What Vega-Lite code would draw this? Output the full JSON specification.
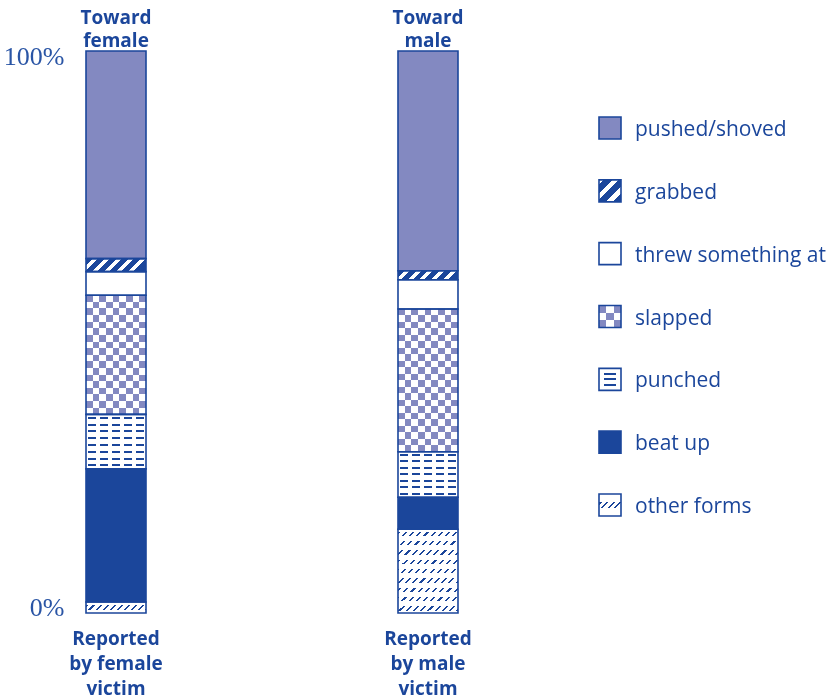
{
  "$schema": "https://vega.github.io/schema/vega-lite/v6.json",
  "background": "white",
  "padding": {"left": 3, "top": 8, "right": 0, "bottom": 0},
  "config": {"view": {"stroke": null}, "axis": {"grid": false, "domain": false, "ticks": false}},
  "spacing": 121,
  "datasets": {
    "bars": [
      {"victim": "female", "cat": "pushed/shoved", "value": 36.95, "order": 7},
      {"victim": "female", "cat": "grabbed", "value": 2.3, "order": 6},
      {"victim": "female", "cat": "threw something at", "value": 4.2, "order": 5},
      {"victim": "female", "cat": "slapped", "value": 21.2, "order": 4},
      {"victim": "female", "cat": "punched", "value": 9.7, "order": 3},
      {"victim": "female", "cat": "beat up", "value": 23.7, "order": 2},
      {"victim": "female", "cat": "other forms", "value": 1.95, "order": 1},
      {"victim": "male", "cat": "pushed/shoved", "value": 39.1, "order": 7},
      {"victim": "male", "cat": "grabbed", "value": 1.6, "order": 6},
      {"victim": "male", "cat": "threw something at", "value": 5.2, "order": 5},
      {"victim": "male", "cat": "slapped", "value": 25.4, "order": 4},
      {"victim": "male", "cat": "punched", "value": 8.1, "order": 3},
      {"victim": "male", "cat": "beat up", "value": 5.7, "order": 2},
      {"victim": "male", "cat": "other forms", "value": 14.9, "order": 1}
    ],
    "legend": [
      {"cat": "pushed/shoved"},
      {"cat": "grabbed"},
      {"cat": "threw something at"},
      {"cat": "slapped"},
      {"cat": "punched"},
      {"cat": "beat up"},
      {"cat": "other forms"}
    ]
  },
  "hconcat": [
    {
      "width": 404,
      "height": 562,
      "data": {"name": "bars"},
      "transform": [
        {"stack": "value", "groupby": ["victim"], "sort": [{"field": "order", "order": "ascending"}], "as": ["y0", "y1"], "offset": "normalize"}
      ],
      "encoding": {
        "x": {"field": "victim", "type": "nominal", "scale": {"domain": ["female", "male"], "paddingInner": 0.8077, "paddingOuter": 0.0513}, "axis": null},
        "y": {"field": "y0", "type": "quantitative", "scale": {"domain": [0, 1], "nice": false},
          "axis": {"values": [0, 1], "format": ".0%", "title": null, "labelFont": "Liberation Serif", "labelFontSize": 26, "labelColor": "#2a55a5", "labelPadding": 6, "labelBaseline": "middle",
            "labelOffset": {"condition": {"test": "datum.value == 1", "value": 5}, "value": -6}}},
        "y2": {"field": "y1"}
      },
      "resolve": {"axis": {"x": "independent"}},
      "layer": [
        {
          "transform": [{"filter": "datum.cat == 'pushed/shoved'"}],
          "mark": {"type": "bar", "fill": "#8389c1", "strokeWidth": 0},
          "encoding": {
            "x": {"field": "victim", "type": "nominal", "scale": {"domain": ["female", "male"], "paddingInner": 0.8077, "paddingOuter": 0.0513},
              "axis": {"orient": "bottom", "title": null, "labelAngle": 0, "labelExpr": "datum.value == 'female' ? ['Reported', 'by female', 'victim'] : ['Reported', 'by male', 'victim']",
                "labelFont": "Open Sans", "labelFontWeight": "bold", "labelFontSize": 19, "labelColor": "#1b469b", "labelLineHeight": 25, "labelPadding": 16, "labelBaseline": "top"}}
          }
        },
        {
          "transform": [{"filter": "datum.cat == 'grabbed' && datum.victim == 'female'"}],
          "mark": {"type": "bar", "strokeWidth": 0, "fill": {"gradient": "linear", "x1": 0, "y1": 0, "x2": 1, "y2": 0.217, "stops": [
            {"offset": 0, "color": "#1b469b"}, {"offset": 0.11, "color": "#1b469b"}, {"offset": 0.11, "color": "#ffffff"}, {"offset": 0.19, "color": "#ffffff"},
            {"offset": 0.19, "color": "#1b469b"}, {"offset": 0.3, "color": "#1b469b"}, {"offset": 0.3, "color": "#ffffff"}, {"offset": 0.38, "color": "#ffffff"},
            {"offset": 0.38, "color": "#1b469b"}, {"offset": 0.49, "color": "#1b469b"}, {"offset": 0.49, "color": "#ffffff"}, {"offset": 0.57, "color": "#ffffff"},
            {"offset": 0.57, "color": "#1b469b"}, {"offset": 0.68, "color": "#1b469b"}, {"offset": 0.68, "color": "#ffffff"}, {"offset": 0.76, "color": "#ffffff"},
            {"offset": 0.76, "color": "#1b469b"}, {"offset": 0.87, "color": "#1b469b"}, {"offset": 0.87, "color": "#ffffff"}, {"offset": 0.95, "color": "#ffffff"},
            {"offset": 0.95, "color": "#1b469b"}, {"offset": 1, "color": "#1b469b"}]}}
        },
        {
          "transform": [{"filter": "datum.cat == 'grabbed' && datum.victim == 'male'"}],
          "mark": {"type": "bar", "strokeWidth": 0, "fill": {"gradient": "linear", "x1": 0, "y1": 0, "x2": 1, "y2": 0.15, "stops": [
            {"offset": 0, "color": "#1b469b"}, {"offset": 0.11, "color": "#1b469b"}, {"offset": 0.11, "color": "#ffffff"}, {"offset": 0.19, "color": "#ffffff"},
            {"offset": 0.19, "color": "#1b469b"}, {"offset": 0.3, "color": "#1b469b"}, {"offset": 0.3, "color": "#ffffff"}, {"offset": 0.38, "color": "#ffffff"},
            {"offset": 0.38, "color": "#1b469b"}, {"offset": 0.49, "color": "#1b469b"}, {"offset": 0.49, "color": "#ffffff"}, {"offset": 0.57, "color": "#ffffff"},
            {"offset": 0.57, "color": "#1b469b"}, {"offset": 0.68, "color": "#1b469b"}, {"offset": 0.68, "color": "#ffffff"}, {"offset": 0.76, "color": "#ffffff"},
            {"offset": 0.76, "color": "#1b469b"}, {"offset": 0.87, "color": "#1b469b"}, {"offset": 0.87, "color": "#ffffff"}, {"offset": 0.95, "color": "#ffffff"},
            {"offset": 0.95, "color": "#1b469b"}, {"offset": 1, "color": "#1b469b"}]}}
        },
        {
          "transform": [{"filter": "datum.cat == 'threw something at'"}],
          "mark": {"type": "bar", "fill": "#ffffff", "strokeWidth": 0}
        },
        {
          "transform": [{"filter": "datum.cat == 'slapped' && datum.victim == 'female'"}],
          "mark": {"type": "bar", "strokeWidth": 0, "fill": {"gradient": "linear", "x1": 0, "y1": 0, "x2": 0, "y2": 1, "stops": [
            {"offset": 0, "color": "#000000"}, {"offset": 0.0556, "color": "#000000"}, {"offset": 0.0556, "color": "#ffffff"}, {"offset": 0.1111, "color": "#ffffff"},
            {"offset": 0.1111, "color": "#000000"}, {"offset": 0.1667, "color": "#000000"}, {"offset": 0.1667, "color": "#ffffff"}, {"offset": 0.2222, "color": "#ffffff"},
            {"offset": 0.2222, "color": "#000000"}, {"offset": 0.2778, "color": "#000000"}, {"offset": 0.2778, "color": "#ffffff"}, {"offset": 0.3333, "color": "#ffffff"},
            {"offset": 0.3333, "color": "#000000"}, {"offset": 0.3889, "color": "#000000"}, {"offset": 0.3889, "color": "#ffffff"}, {"offset": 0.4444, "color": "#ffffff"},
            {"offset": 0.4444, "color": "#000000"}, {"offset": 0.5, "color": "#000000"}, {"offset": 0.5, "color": "#ffffff"}, {"offset": 0.5556, "color": "#ffffff"},
            {"offset": 0.5556, "color": "#000000"}, {"offset": 0.6111, "color": "#000000"}, {"offset": 0.6111, "color": "#ffffff"}, {"offset": 0.6667, "color": "#ffffff"},
            {"offset": 0.6667, "color": "#000000"}, {"offset": 0.7222, "color": "#000000"}, {"offset": 0.7222, "color": "#ffffff"}, {"offset": 0.7778, "color": "#ffffff"},
            {"offset": 0.7778, "color": "#000000"}, {"offset": 0.8333, "color": "#000000"}, {"offset": 0.8333, "color": "#ffffff"}, {"offset": 0.8889, "color": "#ffffff"},
            {"offset": 0.8889, "color": "#000000"}, {"offset": 0.9444, "color": "#000000"}, {"offset": 0.9444, "color": "#ffffff"}, {"offset": 1, "color": "#ffffff"}]}}
        },
        {
          "transform": [{"filter": "datum.cat == 'slapped' && datum.victim == 'male'"}],
          "mark": {"type": "bar", "strokeWidth": 0, "fill": {"gradient": "linear", "x1": 0, "y1": 0, "x2": 0, "y2": 1, "stops": [
            {"offset": 0, "color": "#000000"}, {"offset": 0.0455, "color": "#000000"}, {"offset": 0.0455, "color": "#ffffff"}, {"offset": 0.0909, "color": "#ffffff"},
            {"offset": 0.0909, "color": "#000000"}, {"offset": 0.1364, "color": "#000000"}, {"offset": 0.1364, "color": "#ffffff"}, {"offset": 0.1818, "color": "#ffffff"},
            {"offset": 0.1818, "color": "#000000"}, {"offset": 0.2273, "color": "#000000"}, {"offset": 0.2273, "color": "#ffffff"}, {"offset": 0.2727, "color": "#ffffff"},
            {"offset": 0.2727, "color": "#000000"}, {"offset": 0.3182, "color": "#000000"}, {"offset": 0.3182, "color": "#ffffff"}, {"offset": 0.3636, "color": "#ffffff"},
            {"offset": 0.3636, "color": "#000000"}, {"offset": 0.4091, "color": "#000000"}, {"offset": 0.4091, "color": "#ffffff"}, {"offset": 0.4545, "color": "#ffffff"},
            {"offset": 0.4545, "color": "#000000"}, {"offset": 0.5, "color": "#000000"}, {"offset": 0.5, "color": "#ffffff"}, {"offset": 0.5455, "color": "#ffffff"},
            {"offset": 0.5455, "color": "#000000"}, {"offset": 0.5909, "color": "#000000"}, {"offset": 0.5909, "color": "#ffffff"}, {"offset": 0.6364, "color": "#ffffff"},
            {"offset": 0.6364, "color": "#000000"}, {"offset": 0.6818, "color": "#000000"}, {"offset": 0.6818, "color": "#ffffff"}, {"offset": 0.7273, "color": "#ffffff"},
            {"offset": 0.7273, "color": "#000000"}, {"offset": 0.7727, "color": "#000000"}, {"offset": 0.7727, "color": "#ffffff"}, {"offset": 0.8182, "color": "#ffffff"},
            {"offset": 0.8182, "color": "#000000"}, {"offset": 0.8636, "color": "#000000"}, {"offset": 0.8636, "color": "#ffffff"}, {"offset": 0.9091, "color": "#ffffff"},
            {"offset": 0.9091, "color": "#000000"}, {"offset": 0.9545, "color": "#000000"}, {"offset": 0.9545, "color": "#ffffff"}, {"offset": 1, "color": "#ffffff"}]}}
        },
        {
          "transform": [{"filter": "datum.cat == 'slapped'"}],
          "mark": {"type": "bar", "strokeWidth": 0, "blend": "difference", "fill": {"gradient": "linear", "x1": 0, "y1": 0, "x2": 1, "y2": 0, "stops": [
            {"offset": 0, "color": "rgba(255,255,255,0)"}, {"offset": 0.1111, "color": "rgba(255,255,255,0)"}, {"offset": 0.1111, "color": "#ffffff"}, {"offset": 0.2222, "color": "#ffffff"},
            {"offset": 0.2222, "color": "rgba(255,255,255,0)"}, {"offset": 0.3333, "color": "rgba(255,255,255,0)"}, {"offset": 0.3333, "color": "#ffffff"}, {"offset": 0.4444, "color": "#ffffff"},
            {"offset": 0.4444, "color": "rgba(255,255,255,0)"}, {"offset": 0.5556, "color": "rgba(255,255,255,0)"}, {"offset": 0.5556, "color": "#ffffff"}, {"offset": 0.6667, "color": "#ffffff"},
            {"offset": 0.6667, "color": "rgba(255,255,255,0)"}, {"offset": 0.7778, "color": "rgba(255,255,255,0)"}, {"offset": 0.7778, "color": "#ffffff"}, {"offset": 0.8889, "color": "#ffffff"},
            {"offset": 0.8889, "color": "rgba(255,255,255,0)"}, {"offset": 1, "color": "rgba(255,255,255,0)"}]}}
        },
        {
          "transform": [{"filter": "datum.cat == 'slapped'"}],
          "mark": {"type": "bar", "strokeWidth": 0, "blend": "screen", "fill": "#8389c1"}
        },
        {
          "transform": [{"filter": "datum.cat == 'punched' && datum.victim == 'female'"}],
          "mark": {"type": "bar", "strokeWidth": 0, "fill": {"gradient": "linear", "x1": 0, "y1": 0, "x2": 0, "y2": 1, "stops": [
            {"offset": 0, "color": "#ffffff"}, {"offset": 0.0443, "color": "#ffffff"}, {"offset": 0.0443, "color": "#1b469b"}, {"offset": 0.0807, "color": "#1b469b"}, {"offset": 0.0807, "color": "#ffffff"},
            {"offset": 0.1693, "color": "#ffffff"}, {"offset": 0.1693, "color": "#1b469b"}, {"offset": 0.2057, "color": "#1b469b"}, {"offset": 0.2057, "color": "#ffffff"},
            {"offset": 0.2943, "color": "#ffffff"}, {"offset": 0.2943, "color": "#1b469b"}, {"offset": 0.3307, "color": "#1b469b"}, {"offset": 0.3307, "color": "#ffffff"},
            {"offset": 0.4193, "color": "#ffffff"}, {"offset": 0.4193, "color": "#1b469b"}, {"offset": 0.4557, "color": "#1b469b"}, {"offset": 0.4557, "color": "#ffffff"},
            {"offset": 0.5443, "color": "#ffffff"}, {"offset": 0.5443, "color": "#1b469b"}, {"offset": 0.5807, "color": "#1b469b"}, {"offset": 0.5807, "color": "#ffffff"},
            {"offset": 0.6693, "color": "#ffffff"}, {"offset": 0.6693, "color": "#1b469b"}, {"offset": 0.7057, "color": "#1b469b"}, {"offset": 0.7057, "color": "#ffffff"},
            {"offset": 0.7943, "color": "#ffffff"}, {"offset": 0.7943, "color": "#1b469b"}, {"offset": 0.8307, "color": "#1b469b"}, {"offset": 0.8307, "color": "#ffffff"},
            {"offset": 0.9193, "color": "#ffffff"}, {"offset": 0.9193, "color": "#1b469b"}, {"offset": 0.9557, "color": "#1b469b"}, {"offset": 0.9557, "color": "#ffffff"},
            {"offset": 1, "color": "#ffffff"}]}}
        },
        {
          "transform": [{"filter": "datum.cat == 'punched' && datum.victim == 'male'"}],
          "mark": {"type": "bar", "strokeWidth": 0, "fill": {"gradient": "linear", "x1": 0, "y1": 0, "x2": 0, "y2": 1, "stops": [
            {"offset": 0, "color": "#ffffff"}, {"offset": 0.0494, "color": "#ffffff"}, {"offset": 0.0494, "color": "#1b469b"}, {"offset": 0.0934, "color": "#1b469b"}, {"offset": 0.0934, "color": "#ffffff"},
            {"offset": 0.1923, "color": "#ffffff"}, {"offset": 0.1923, "color": "#1b469b"}, {"offset": 0.2363, "color": "#1b469b"}, {"offset": 0.2363, "color": "#ffffff"},
            {"offset": 0.3351, "color": "#ffffff"}, {"offset": 0.3351, "color": "#1b469b"}, {"offset": 0.3791, "color": "#1b469b"}, {"offset": 0.3791, "color": "#ffffff"},
            {"offset": 0.478, "color": "#ffffff"}, {"offset": 0.478, "color": "#1b469b"}, {"offset": 0.522, "color": "#1b469b"}, {"offset": 0.522, "color": "#ffffff"},
            {"offset": 0.6209, "color": "#ffffff"}, {"offset": 0.6209, "color": "#1b469b"}, {"offset": 0.6649, "color": "#1b469b"}, {"offset": 0.6649, "color": "#ffffff"},
            {"offset": 0.7637, "color": "#ffffff"}, {"offset": 0.7637, "color": "#1b469b"}, {"offset": 0.8077, "color": "#1b469b"}, {"offset": 0.8077, "color": "#ffffff"},
            {"offset": 0.9066, "color": "#ffffff"}, {"offset": 0.9066, "color": "#1b469b"}, {"offset": 0.9506, "color": "#1b469b"}, {"offset": 0.9506, "color": "#ffffff"},
            {"offset": 1, "color": "#ffffff"}]}}
        },
        {
          "transform": [{"filter": "datum.cat == 'punched'"}],
          "mark": {"type": "bar", "strokeWidth": 0, "fill": {"gradient": "linear", "x1": 0, "y1": 0, "x2": 1, "y2": 0, "stops": [
            {"offset": 0, "color": "#ffffff"}, {"offset": 0.04, "color": "#ffffff"}, {"offset": 0.04, "color": "rgba(255,255,255,0)"}, {"offset": 0.16, "color": "rgba(255,255,255,0)"},
            {"offset": 0.16, "color": "#ffffff"}, {"offset": 0.24, "color": "#ffffff"}, {"offset": 0.24, "color": "rgba(255,255,255,0)"}, {"offset": 0.36, "color": "rgba(255,255,255,0)"},
            {"offset": 0.36, "color": "#ffffff"}, {"offset": 0.44, "color": "#ffffff"}, {"offset": 0.44, "color": "rgba(255,255,255,0)"}, {"offset": 0.56, "color": "rgba(255,255,255,0)"},
            {"offset": 0.56, "color": "#ffffff"}, {"offset": 0.64, "color": "#ffffff"}, {"offset": 0.64, "color": "rgba(255,255,255,0)"}, {"offset": 0.76, "color": "rgba(255,255,255,0)"},
            {"offset": 0.76, "color": "#ffffff"}, {"offset": 0.84, "color": "#ffffff"}, {"offset": 0.84, "color": "rgba(255,255,255,0)"}, {"offset": 0.96, "color": "rgba(255,255,255,0)"},
            {"offset": 0.96, "color": "#ffffff"}, {"offset": 1, "color": "#ffffff"}]}}
        },
        {
          "transform": [{"filter": "datum.cat == 'beat up'"}],
          "mark": {"type": "bar", "fill": "#1b469b", "strokeWidth": 0}
        },
        {
          "transform": [{"filter": "datum.cat == 'other forms' && datum.victim == 'female'"}],
          "mark": {"type": "bar", "strokeWidth": 0, "fill": {"gradient": "linear", "x1": 0, "y1": 0, "x2": 1.1446, "y2": 0.2095, "stops": [
            {"offset": 0, "color": "#ffffff"}, {"offset": 0.04, "color": "#ffffff"}, {"offset": 0.04, "color": "#1b469b"}, {"offset": 0.07, "color": "#1b469b"}, {"offset": 0.07, "color": "#ffffff"},
            {"offset": 0.14, "color": "#ffffff"}, {"offset": 0.14, "color": "#1b469b"}, {"offset": 0.17, "color": "#1b469b"}, {"offset": 0.17, "color": "#ffffff"},
            {"offset": 0.24, "color": "#ffffff"}, {"offset": 0.24, "color": "#1b469b"}, {"offset": 0.27, "color": "#1b469b"}, {"offset": 0.27, "color": "#ffffff"},
            {"offset": 0.34, "color": "#ffffff"}, {"offset": 0.34, "color": "#1b469b"}, {"offset": 0.37, "color": "#1b469b"}, {"offset": 0.37, "color": "#ffffff"},
            {"offset": 0.44, "color": "#ffffff"}, {"offset": 0.44, "color": "#1b469b"}, {"offset": 0.47, "color": "#1b469b"}, {"offset": 0.47, "color": "#ffffff"},
            {"offset": 0.54, "color": "#ffffff"}, {"offset": 0.54, "color": "#1b469b"}, {"offset": 0.57, "color": "#1b469b"}, {"offset": 0.57, "color": "#ffffff"},
            {"offset": 0.64, "color": "#ffffff"}, {"offset": 0.64, "color": "#1b469b"}, {"offset": 0.67, "color": "#1b469b"}, {"offset": 0.67, "color": "#ffffff"},
            {"offset": 0.74, "color": "#ffffff"}, {"offset": 0.74, "color": "#1b469b"}, {"offset": 0.77, "color": "#1b469b"}, {"offset": 0.77, "color": "#ffffff"},
            {"offset": 0.84, "color": "#ffffff"}, {"offset": 0.84, "color": "#1b469b"}, {"offset": 0.87, "color": "#1b469b"}, {"offset": 0.87, "color": "#ffffff"},
            {"offset": 0.94, "color": "#ffffff"}, {"offset": 0.94, "color": "#1b469b"}, {"offset": 0.97, "color": "#1b469b"}, {"offset": 0.97, "color": "#ffffff"},
            {"offset": 1, "color": "#ffffff"}]}}
        },
        {
          "transform": [{"filter": "datum.cat == 'other forms' && datum.victim == 'female'"}],
          "mark": {"type": "bar", "strokeWidth": 0, "fill": {"gradient": "linear", "x1": 0, "y1": 0, "x2": 0, "y2": 1, "stops": [
            {"offset": 0, "color": "#ffffff"}, {"offset": 0.3, "color": "#ffffff"}, {"offset": 0.3, "color": "rgba(255,255,255,0)"}, {"offset": 0.7, "color": "rgba(255,255,255,0)"},
            {"offset": 0.7, "color": "#ffffff"}, {"offset": 1, "color": "#ffffff"}]}}
        },
        {
          "transform": [{"filter": "datum.cat == 'other forms' && datum.victim == 'male'"}],
          "mark": {"type": "bar", "strokeWidth": 0, "fill": {"gradient": "linear", "x1": 0, "y1": 0, "x2": 0.809, "y2": 1.136, "stops": [
            {"offset": 0, "color": "#ffffff"}, {"offset": 0.02, "color": "#ffffff"}, {"offset": 0.02, "color": "#1b469b"}, {"offset": 0.035, "color": "#1b469b"}, {"offset": 0.035, "color": "#ffffff"},
            {"offset": 0.07, "color": "#ffffff"}, {"offset": 0.07, "color": "#1b469b"}, {"offset": 0.085, "color": "#1b469b"}, {"offset": 0.085, "color": "#ffffff"},
            {"offset": 0.12, "color": "#ffffff"}, {"offset": 0.12, "color": "#1b469b"}, {"offset": 0.135, "color": "#1b469b"}, {"offset": 0.135, "color": "#ffffff"},
            {"offset": 0.17, "color": "#ffffff"}, {"offset": 0.17, "color": "#1b469b"}, {"offset": 0.185, "color": "#1b469b"}, {"offset": 0.185, "color": "#ffffff"},
            {"offset": 0.22, "color": "#ffffff"}, {"offset": 0.22, "color": "#1b469b"}, {"offset": 0.235, "color": "#1b469b"}, {"offset": 0.235, "color": "#ffffff"},
            {"offset": 0.27, "color": "#ffffff"}, {"offset": 0.27, "color": "#1b469b"}, {"offset": 0.285, "color": "#1b469b"}, {"offset": 0.285, "color": "#ffffff"},
            {"offset": 0.32, "color": "#ffffff"}, {"offset": 0.32, "color": "#1b469b"}, {"offset": 0.335, "color": "#1b469b"}, {"offset": 0.335, "color": "#ffffff"},
            {"offset": 0.37, "color": "#ffffff"}, {"offset": 0.37, "color": "#1b469b"}, {"offset": 0.385, "color": "#1b469b"}, {"offset": 0.385, "color": "#ffffff"},
            {"offset": 0.42, "color": "#ffffff"}, {"offset": 0.42, "color": "#1b469b"}, {"offset": 0.435, "color": "#1b469b"}, {"offset": 0.435, "color": "#ffffff"},
            {"offset": 0.47, "color": "#ffffff"}, {"offset": 0.47, "color": "#1b469b"}, {"offset": 0.485, "color": "#1b469b"}, {"offset": 0.485, "color": "#ffffff"},
            {"offset": 0.52, "color": "#ffffff"}, {"offset": 0.52, "color": "#1b469b"}, {"offset": 0.535, "color": "#1b469b"}, {"offset": 0.535, "color": "#ffffff"},
            {"offset": 0.57, "color": "#ffffff"}, {"offset": 0.57, "color": "#1b469b"}, {"offset": 0.585, "color": "#1b469b"}, {"offset": 0.585, "color": "#ffffff"},
            {"offset": 0.62, "color": "#ffffff"}, {"offset": 0.62, "color": "#1b469b"}, {"offset": 0.635, "color": "#1b469b"}, {"offset": 0.635, "color": "#ffffff"},
            {"offset": 0.67, "color": "#ffffff"}, {"offset": 0.67, "color": "#1b469b"}, {"offset": 0.685, "color": "#1b469b"}, {"offset": 0.685, "color": "#ffffff"},
            {"offset": 0.72, "color": "#ffffff"}, {"offset": 0.72, "color": "#1b469b"}, {"offset": 0.735, "color": "#1b469b"}, {"offset": 0.735, "color": "#ffffff"},
            {"offset": 0.77, "color": "#ffffff"}, {"offset": 0.77, "color": "#1b469b"}, {"offset": 0.785, "color": "#1b469b"}, {"offset": 0.785, "color": "#ffffff"},
            {"offset": 0.82, "color": "#ffffff"}, {"offset": 0.82, "color": "#1b469b"}, {"offset": 0.835, "color": "#1b469b"}, {"offset": 0.835, "color": "#ffffff"},
            {"offset": 0.87, "color": "#ffffff"}, {"offset": 0.87, "color": "#1b469b"}, {"offset": 0.885, "color": "#1b469b"}, {"offset": 0.885, "color": "#ffffff"},
            {"offset": 0.92, "color": "#ffffff"}, {"offset": 0.92, "color": "#1b469b"}, {"offset": 0.935, "color": "#1b469b"}, {"offset": 0.935, "color": "#ffffff"},
            {"offset": 0.97, "color": "#ffffff"}, {"offset": 0.97, "color": "#1b469b"}, {"offset": 0.985, "color": "#1b469b"}, {"offset": 0.985, "color": "#ffffff"},
            {"offset": 1, "color": "#ffffff"}]}}
        },
        {
          "transform": [{"filter": "datum.cat == 'other forms' && datum.victim == 'male'"}],
          "mark": {"type": "bar", "strokeWidth": 0, "fill": {"gradient": "linear", "x1": 0, "y1": 0, "x2": 0, "y2": 1, "stops": [
            {"offset": 0, "color": "#ffffff"}, {"offset": 0.029, "color": "#ffffff"}, {"offset": 0.029, "color": "rgba(255,255,255,0)"}, {"offset": 0.082, "color": "rgba(255,255,255,0)"}, {"offset": 0.082, "color": "#ffffff"},
            {"offset": 0.14, "color": "#ffffff"}, {"offset": 0.14, "color": "rgba(255,255,255,0)"}, {"offset": 0.193, "color": "rgba(255,255,255,0)"}, {"offset": 0.193, "color": "#ffffff"},
            {"offset": 0.251, "color": "#ffffff"}, {"offset": 0.251, "color": "rgba(255,255,255,0)"}, {"offset": 0.304, "color": "rgba(255,255,255,0)"}, {"offset": 0.304, "color": "#ffffff"},
            {"offset": 0.362, "color": "#ffffff"}, {"offset": 0.362, "color": "rgba(255,255,255,0)"}, {"offset": 0.415, "color": "rgba(255,255,255,0)"}, {"offset": 0.415, "color": "#ffffff"},
            {"offset": 0.473, "color": "#ffffff"}, {"offset": 0.473, "color": "rgba(255,255,255,0)"}, {"offset": 0.526, "color": "rgba(255,255,255,0)"}, {"offset": 0.526, "color": "#ffffff"},
            {"offset": 0.584, "color": "#ffffff"}, {"offset": 0.584, "color": "rgba(255,255,255,0)"}, {"offset": 0.637, "color": "rgba(255,255,255,0)"}, {"offset": 0.637, "color": "#ffffff"},
            {"offset": 0.696, "color": "#ffffff"}, {"offset": 0.696, "color": "rgba(255,255,255,0)"}, {"offset": 0.749, "color": "rgba(255,255,255,0)"}, {"offset": 0.749, "color": "#ffffff"},
            {"offset": 0.807, "color": "#ffffff"}, {"offset": 0.807, "color": "rgba(255,255,255,0)"}, {"offset": 0.86, "color": "rgba(255,255,255,0)"}, {"offset": 0.86, "color": "#ffffff"},
            {"offset": 0.918, "color": "#ffffff"}, {"offset": 0.918, "color": "rgba(255,255,255,0)"}, {"offset": 0.971, "color": "rgba(255,255,255,0)"}, {"offset": 0.971, "color": "#ffffff"},
            {"offset": 1, "color": "#ffffff"}]}}
        },
        {
          "mark": {"type": "bar", "fill": null, "fillOpacity": 0, "stroke": "#1b469b", "strokeWidth": 1.6},
          "encoding": {
            "x": {"field": "victim", "type": "nominal", "scale": {"domain": ["female", "male"], "paddingInner": 0.8077, "paddingOuter": 0.0513},
              "axis": {"orient": "top", "title": null, "labelAngle": 0, "labelExpr": "datum.value == 'female' ? ['Toward', 'female'] : ['Toward', 'male']",
                "labelFont": "Open Sans", "labelFontWeight": "bold", "labelFontSize": 19, "labelColor": "#1b469b", "labelLineHeight": 23, "labelPadding": 43, "labelBaseline": "top"}}
          }
        }
      ]
    },
    {
      "width": 22,
      "height": 529,
      "data": {"name": "legend"},
      "encoding": {
        "y": {"field": "cat", "type": "nominal", "sort": ["pushed/shoved", "grabbed", "threw something at", "slapped", "punched", "beat up", "other forms"],
          "scale": {"type": "point", "range": [77, 454], "padding": 0}, "axis": null}
      },
      "layer": [
        {
          "transform": [{"filter": "datum.cat == 'pushed/shoved'"}],
          "mark": {"type": "point", "shape": "square", "size": 484, "filled": true, "opacity": 1, "strokeWidth": 0, "fill": "#8389c1"}
        },
        {
          "transform": [{"filter": "datum.cat == 'grabbed'"}],
          "mark": {"type": "point", "shape": "square", "size": 484, "filled": true, "opacity": 1, "strokeWidth": 0, "fill": {"gradient": "linear", "x1": 0, "y1": 0, "x2": 1, "y2": 1, "stops": [
            {"offset": 0, "color": "#ffffff"}, {"offset": 0.1, "color": "#ffffff"}, {"offset": 0.1, "color": "#1b469b"}, {"offset": 0.3, "color": "#1b469b"},
            {"offset": 0.3, "color": "#ffffff"}, {"offset": 0.45, "color": "#ffffff"}, {"offset": 0.45, "color": "#1b469b"}, {"offset": 0.65, "color": "#1b469b"},
            {"offset": 0.65, "color": "#ffffff"}, {"offset": 0.8, "color": "#ffffff"}, {"offset": 0.8, "color": "#1b469b"}, {"offset": 1, "color": "#1b469b"}]}}
        },
        {
          "transform": [{"filter": "datum.cat == 'threw something at'"}],
          "mark": {"type": "point", "shape": "square", "size": 484, "filled": true, "opacity": 1, "strokeWidth": 0, "fill": "#ffffff"}
        },
        {
          "transform": [{"filter": "datum.cat == 'slapped'"}],
          "mark": {"type": "point", "shape": "square", "size": 484, "filled": true, "opacity": 1, "strokeWidth": 0, "fill": {"gradient": "linear", "x1": 0, "y1": 0, "x2": 0, "y2": 1, "stops": [
            {"offset": 0, "color": "#000000"}, {"offset": 0.3333, "color": "#000000"}, {"offset": 0.3333, "color": "#ffffff"}, {"offset": 0.6667, "color": "#ffffff"},
            {"offset": 0.6667, "color": "#000000"}, {"offset": 1, "color": "#000000"}]}}
        },
        {
          "transform": [{"filter": "datum.cat == 'slapped'"}],
          "mark": {"type": "point", "shape": "square", "size": 484, "filled": true, "opacity": 1, "strokeWidth": 0, "blend": "difference", "fill": {"gradient": "linear", "x1": 0, "y1": 0, "x2": 1, "y2": 0, "stops": [
            {"offset": 0, "color": "rgba(255,255,255,0)"}, {"offset": 0.3333, "color": "rgba(255,255,255,0)"}, {"offset": 0.3333, "color": "#ffffff"}, {"offset": 0.6667, "color": "#ffffff"},
            {"offset": 0.6667, "color": "rgba(255,255,255,0)"}, {"offset": 1, "color": "rgba(255,255,255,0)"}]}}
        },
        {
          "transform": [{"filter": "datum.cat == 'slapped'"}],
          "mark": {"type": "point", "shape": "square", "size": 484, "filled": true, "opacity": 1, "strokeWidth": 0, "blend": "screen", "fill": "#8389c1"}
        },
        {
          "transform": [{"filter": "datum.cat == 'punched'"}],
          "mark": {"type": "point", "shape": "square", "size": 484, "filled": true, "opacity": 1, "strokeWidth": 0, "fill": {"gradient": "linear", "x1": 0, "y1": 0, "x2": 0, "y2": 1, "stops": [
            {"offset": 0, "color": "#ffffff"}, {"offset": 0.2, "color": "#ffffff"}, {"offset": 0.2, "color": "#1b469b"}, {"offset": 0.29, "color": "#1b469b"}, {"offset": 0.29, "color": "#ffffff"},
            {"offset": 0.455, "color": "#ffffff"}, {"offset": 0.455, "color": "#1b469b"}, {"offset": 0.545, "color": "#1b469b"}, {"offset": 0.545, "color": "#ffffff"},
            {"offset": 0.71, "color": "#ffffff"}, {"offset": 0.71, "color": "#1b469b"}, {"offset": 0.8, "color": "#1b469b"}, {"offset": 0.8, "color": "#ffffff"},
            {"offset": 1, "color": "#ffffff"}]}}
        },
        {
          "transform": [{"filter": "datum.cat == 'punched'"}],
          "mark": {"type": "point", "shape": "square", "size": 484, "filled": true, "opacity": 1, "strokeWidth": 0, "fill": {"gradient": "linear", "x1": 0, "y1": 0, "x2": 1, "y2": 0, "stops": [
            {"offset": 0, "color": "#ffffff"}, {"offset": 0.22, "color": "#ffffff"}, {"offset": 0.22, "color": "rgba(255,255,255,0)"}, {"offset": 0.78, "color": "rgba(255,255,255,0)"},
            {"offset": 0.78, "color": "#ffffff"}, {"offset": 1, "color": "#ffffff"}]}}
        },
        {
          "transform": [{"filter": "datum.cat == 'beat up'"}],
          "mark": {"type": "point", "shape": "square", "size": 484, "filled": true, "opacity": 1, "strokeWidth": 0, "fill": "#1b469b"}
        },
        {
          "transform": [{"filter": "datum.cat == 'other forms'"}],
          "mark": {"type": "point", "shape": "square", "size": 484, "filled": true, "opacity": 1, "strokeWidth": 0, "fill": {"gradient": "linear", "x1": 0, "y1": 0, "x2": 1, "y2": 1, "stops": [
            {"offset": 0, "color": "#ffffff"}, {"offset": 0.05, "color": "#ffffff"}, {"offset": 0.05, "color": "#1b469b"}, {"offset": 0.1, "color": "#1b469b"}, {"offset": 0.1, "color": "#ffffff"},
            {"offset": 0.2, "color": "#ffffff"}, {"offset": 0.2, "color": "#1b469b"}, {"offset": 0.25, "color": "#1b469b"}, {"offset": 0.25, "color": "#ffffff"},
            {"offset": 0.35, "color": "#ffffff"}, {"offset": 0.35, "color": "#1b469b"}, {"offset": 0.4, "color": "#1b469b"}, {"offset": 0.4, "color": "#ffffff"},
            {"offset": 0.5, "color": "#ffffff"}, {"offset": 0.5, "color": "#1b469b"}, {"offset": 0.55, "color": "#1b469b"}, {"offset": 0.55, "color": "#ffffff"},
            {"offset": 0.65, "color": "#ffffff"}, {"offset": 0.65, "color": "#1b469b"}, {"offset": 0.7, "color": "#1b469b"}, {"offset": 0.7, "color": "#ffffff"},
            {"offset": 0.8, "color": "#ffffff"}, {"offset": 0.8, "color": "#1b469b"}, {"offset": 0.85, "color": "#1b469b"}, {"offset": 0.85, "color": "#ffffff"},
            {"offset": 1, "color": "#ffffff"}]}}
        },
        {
          "transform": [{"filter": "datum.cat == 'other forms'"}],
          "mark": {"type": "point", "shape": "square", "size": 484, "filled": true, "opacity": 1, "strokeWidth": 0, "fill": {"gradient": "linear", "x1": 0, "y1": 0, "x2": 0, "y2": 1, "stops": [
            {"offset": 0, "color": "#ffffff"}, {"offset": 0.35, "color": "#ffffff"}, {"offset": 0.35, "color": "rgba(255,255,255,0)"}, {"offset": 0.62, "color": "rgba(255,255,255,0)"},
            {"offset": 0.62, "color": "#ffffff"}, {"offset": 1, "color": "#ffffff"}]}}
        },
        {
          "mark": {"type": "point", "shape": "square", "size": 484, "filled": false, "opacity": 1, "stroke": "#1b469b", "strokeWidth": 1.6}
        },
        {
          "mark": {"type": "text", "align": "left", "baseline": "middle", "dx": 25, "dy": 2, "font": "Open Sans", "fontSize": 21, "fill": "#1b469b"},
          "encoding": {"text": {"field": "cat"}}
        }
      ]
    }
  ]
}
